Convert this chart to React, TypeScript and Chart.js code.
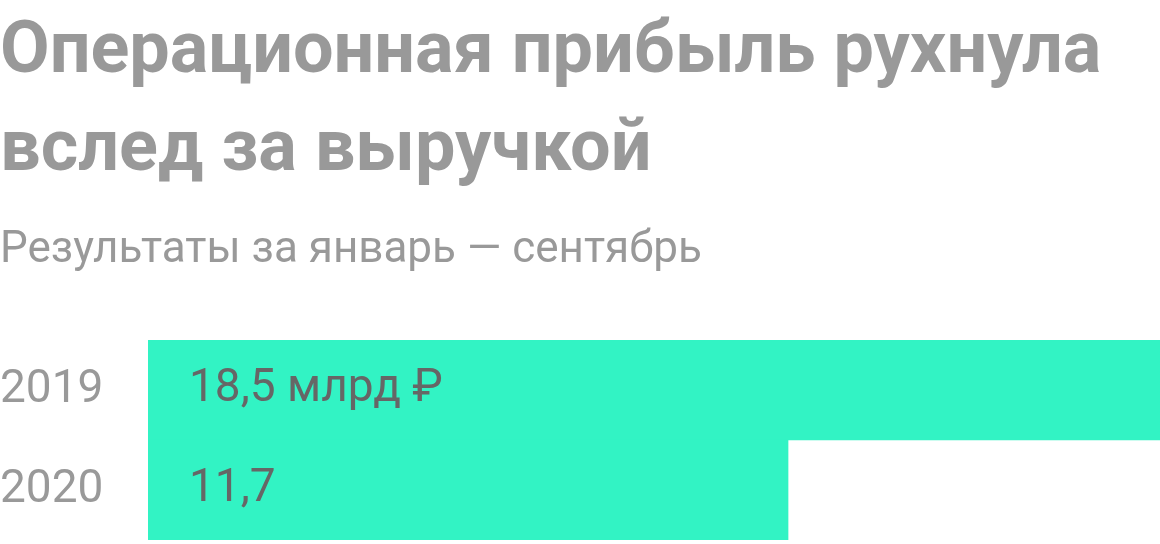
import React, { useEffect, useRef } from "react";
import { Chart, registerables } from "chart.js";

Chart.register(...registerables);

const titleLines = ["Операционная прибыль рухнула", "вслед за выручкой"];
const subtitleText = "Результаты за январь — сентябрь";
const years = ["2019", "2020"];
const profit = [18.5, 11.7];
const valueLabels = ["18,5 млрд ₽", "11,7"];

const FONT = "Roboto, 'Noto Sans', sans-serif";

const valueLabelPlugin = {
  id: "valueLabels",
  afterDatasetsDraw(chart: any) {
    const ctx = chart.ctx;
    const meta = chart.getDatasetMeta(0);
    ctx.save();
    ctx.font = `400 46px ${FONT}`;
    ctx.fillStyle = "#666666";
    ctx.textAlign = "left";
    ctx.textBaseline = "middle";
    meta.data.forEach((bar: any, i: number) => {
      ctx.fillText(valueLabels[i], bar.base + 41, bar.y - 1);
    });
    ctx.restore();
  },
};

export default function App() {
  const ref = useRef<HTMLCanvasElement | null>(null);

  useEffect(() => {
    document.body.style.margin = "0";
    const canvas = ref.current;
    if (!canvas) return;
    const chart = new Chart(canvas, {
      type: "bar",
      data: {
        labels: years,
        datasets: [
          {
            data: profit,
            backgroundColor: "#32F3C4",
            borderWidth: 0,
            categoryPercentage: 1,
            barPercentage: 1,
          },
        ],
      },
      options: {
        indexAxis: "y",
        animation: false,
        responsive: false,
        maintainAspectRatio: false,
        devicePixelRatio: 1,
        layout: { padding: { left: 0, right: 0, top: 0, bottom: 4 } },
        plugins: {
          legend: { display: false },
          tooltip: { enabled: false },
          title: {
            display: true,
            text: titleLines,
            align: "start",
            color: "#999999",
            font: { family: FONT, size: 72, weight: "bold", lineHeight: "98px" },
            padding: { top: 5, bottom: 25 },
          },
          subtitle: {
            display: true,
            text: subtitleText,
            align: "start",
            color: "#999999",
            font: { family: FONT, size: 44, weight: "normal", lineHeight: "50px" },
            padding: { top: 0, bottom: 64 },
          },
        },
        scales: {
          x: {
            display: false,
            min: 0,
            max: 18.5,
          },
          y: {
            grid: { display: false },
            border: { display: false },
            ticks: {
              color: "#999999",
              font: { family: FONT, size: 46 },
              crossAlign: "far",
              padding: 0,
            },
            afterFit(scale: any) {
              scale.width = 148;
              scale.paddingTop = 0;
              scale.paddingBottom = 0;
            },
          },
        },
      },
      plugins: [valueLabelPlugin],
    });
    return () => chart.destroy();
  }, []);

  return (
    <div style={{ width: 1160, height: 544 }}>
      <canvas ref={ref} width={1160} height={544} style={{ display: "block" }} />
    </div>
  );
}
